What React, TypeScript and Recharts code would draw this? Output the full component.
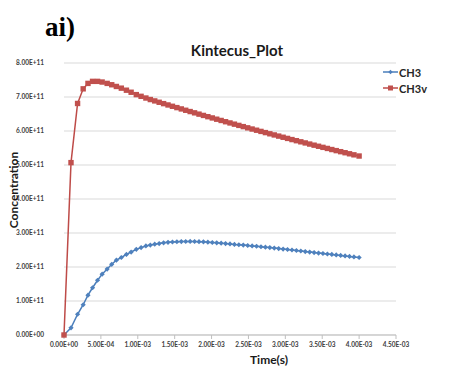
import React from "react";
import { LineChart, Line, XAxis, YAxis, CartesianGrid, Legend } from "recharts";

// time in ms (solver output steps), concentrations in units of 1e11
const TIME_MS = [
  0, 0.095, 0.184, 0.26, 0.325, 0.387, 0.455, 0.517, 0.585, 0.647, 0.71, 0.777,
  0.846, 0.91, 0.98, 1.045, 1.11,
  1.17, 1.23, 1.29, 1.35, 1.41, 1.47, 1.53, 1.59, 1.65, 1.71, 1.77, 1.83,
  1.89, 1.95, 2.01, 2.07, 2.13, 2.19, 2.25, 2.31, 2.37, 2.43, 2.49, 2.55,
  2.61, 2.67, 2.73, 2.79, 2.85, 2.91, 2.97, 3.03, 3.09, 3.15, 3.21, 3.27,
  3.33, 3.39, 3.45, 3.51, 3.57, 3.63, 3.69, 3.75, 3.81, 3.87, 3.93, 4.0,
];

const CH3 = [
  0, 0.21, 0.61, 0.89, 1.17, 1.39, 1.61, 1.79, 1.94, 2.08, 2.2, 2.28,
  2.37, 2.44, 2.52, 2.57, 2.62,
  2.645, 2.67, 2.69, 2.71, 2.725, 2.735, 2.742, 2.748, 2.75, 2.752, 2.75, 2.745,
  2.74, 2.73, 2.72, 2.71, 2.7, 2.69, 2.68, 2.665, 2.655, 2.645, 2.632, 2.62,
  2.61, 2.595, 2.583, 2.57, 2.556, 2.543, 2.527, 2.515, 2.5, 2.485, 2.47, 2.455,
  2.44, 2.425, 2.41, 2.397, 2.382, 2.37, 2.355, 2.34, 2.325, 2.31, 2.295, 2.28,
];

const CH3V = [
  0, 5.07, 6.81, 7.24, 7.4, 7.46, 7.46, 7.44, 7.4, 7.36, 7.31, 7.26,
  7.2, 7.14, 7.07, 7.02, 6.97,
  6.925, 6.885, 6.845, 6.805, 6.766, 6.727, 6.688, 6.649, 6.61, 6.572, 6.534, 6.496,
  6.458, 6.421, 6.384, 6.347, 6.31, 6.273, 6.237, 6.201, 6.165, 6.129, 6.093, 6.058,
  6.023, 5.988, 5.953, 5.918, 5.884, 5.85, 5.816, 5.782, 5.748, 5.715, 5.682, 5.649,
  5.616, 5.583, 5.551, 5.519, 5.487, 5.455, 5.423, 5.392, 5.361, 5.33, 5.299, 5.264,
];

const X_TICKS = [0, 0.5, 1, 1.5, 2, 2.5, 3, 3.5, 4, 4.5];
const Y_TICKS = [0, 1, 2, 3, 4, 5, 6, 7, 8];

const rows = TIME_MS.map((t, i) => ({ t, CH3: CH3[i], CH3v: CH3V[i] }));

const BLUE = "#4F81BD";
const RED = "#C0504D";
const FONT = "Lato, 'Open Sans', sans-serif";

// Excel style "5.00E-04"
const sci = (v: number) => {
  const [m, e] = v.toExponential(2).split("e");
  const n = parseInt(e, 10);
  return `${m}E${n < 0 ? "-" : "+"}${String(Math.abs(n)).padStart(2, "0")}`;
};

const diamond = (cx: number, cy: number, r = 2.6) =>
  `M${cx},${cy - r}L${cx + r},${cy}L${cx},${cy + r}L${cx - r},${cy}Z`;

const BlueDot = (p: any) => {
  if (p.cx == null || p.cy == null) return <g key={`b-${p.index}`} />;
  return <path key={`b-${p.index}`} d={diamond(p.cx, p.cy)} fill={BLUE} />;
};

const RedDot = (p: any) => {
  if (p.cx == null || p.cy == null) return <g key={`r-${p.index}`} />;
  return (
    <rect
      key={`r-${p.index}`}
      x={p.cx - 2.7}
      y={p.cy - 2.7}
      width={5.4}
      height={5.4}
      fill={RED}
    />
  );
};

const LegendBox = ({ payload }: any) => (
  <div style={{ fontFamily: FONT, fontWeight: 700, fontSize: 11, color: "#262626" }}>
    {(payload || []).map((e: any) => (
      <div key={e.value} style={{ display: "flex", alignItems: "center", height: 16 }}>
        <svg width={15} height={8} style={{ marginRight: 1 }}>
          <line x1={0} y1={4} x2={15} y2={4} stroke={e.color} strokeWidth={1.5} />
          {e.dataKey === "CH3" ? (
            <path d={diamond(7.5, 4, 2.2)} fill={BLUE} />
          ) : (
            <rect x={5} y={1.5} width={5} height={5} fill={RED} />
          )}
        </svg>
        <span>{e.value}</span>
      </div>
    ))}
  </div>
);

export default function App() {
  return (
    <div style={{ position: "absolute", left: 0, top: 0, width: 471, height: 367, background: "#fff" }}>
      <LineChart
        width={471}
        height={367}
        data={rows}
        margin={{ top: 63, right: 15, bottom: 0, left: 0 }}
      >
        <CartesianGrid vertical={false} stroke="#d9d9d9" strokeWidth={1} />
        <XAxis
          type="number"
          dataKey="t"
          domain={[0, 4.5]}
          ticks={X_TICKS}
          interval={0}
          height={32}
          tickFormatter={(v: number) => sci(v * 1e-3)}
          stroke="#bfbfbf"
          tickSize={4}
          tickMargin={3}
          tick={{ fontSize: 6.5, fontWeight: 700, fill: "#404040", fontFamily: FONT }}
        />
        <YAxis
          type="number"
          domain={[0, 8]}
          ticks={Y_TICKS}
          interval={0}
          width={64}
          axisLine={false}
          tickLine={false}
          tickSize={0}
          tickMargin={20}
          tickFormatter={(v: number) => sci(v * 1e11)}
          tick={{ fontSize: 6.5, fontWeight: 700, fill: "#404040", fontFamily: FONT }}
        />
        <Legend
          layout="vertical"
          verticalAlign="top"
          align="right"
          content={LegendBox}
          wrapperStyle={{ position: "absolute", top: 64, left: 383, width: 60 }}
        />
        <Line
          dataKey="CH3"
          name="CH3"
          stroke="#4A7EBB"
          strokeWidth={1.5}
          dot={BlueDot}
          activeDot={false}
          isAnimationActive={false}
        />
        <Line
          dataKey="CH3v"
          name="CH3v"
          stroke="#BE4B48"
          strokeWidth={1.5}
          dot={RedDot}
          activeDot={false}
          isAnimationActive={false}
        />
      </LineChart>
      <svg
        width={471}
        height={367}
        style={{ position: "absolute", left: 0, top: 0, pointerEvents: "none" }}
      >
        <text x={45} y={36} fontFamily="'Liberation Serif', serif" fontWeight={700} fontSize={27} fill="#000">
          ai)
        </text>
        <text x={237} y={56} textAnchor="middle" fontFamily={FONT} fontWeight={700} fontSize={15} fill="#1a1a1a">
          Kintecus_Plot
        </text>
        <text x={269} y={364} textAnchor="middle" fontFamily={FONT} fontWeight={700} fontSize={12} fill="#1a1a1a">
          Time(s)
        </text>
        <text
          x={17.5}
          y={190}
          textAnchor="middle"
          transform="rotate(-90 17.5 190)"
          fontFamily={FONT}
          fontWeight={700}
          fontSize={12}
          fill="#1a1a1a"
        >
          Concentration
        </text>
      </svg>
    </div>
  );
}
